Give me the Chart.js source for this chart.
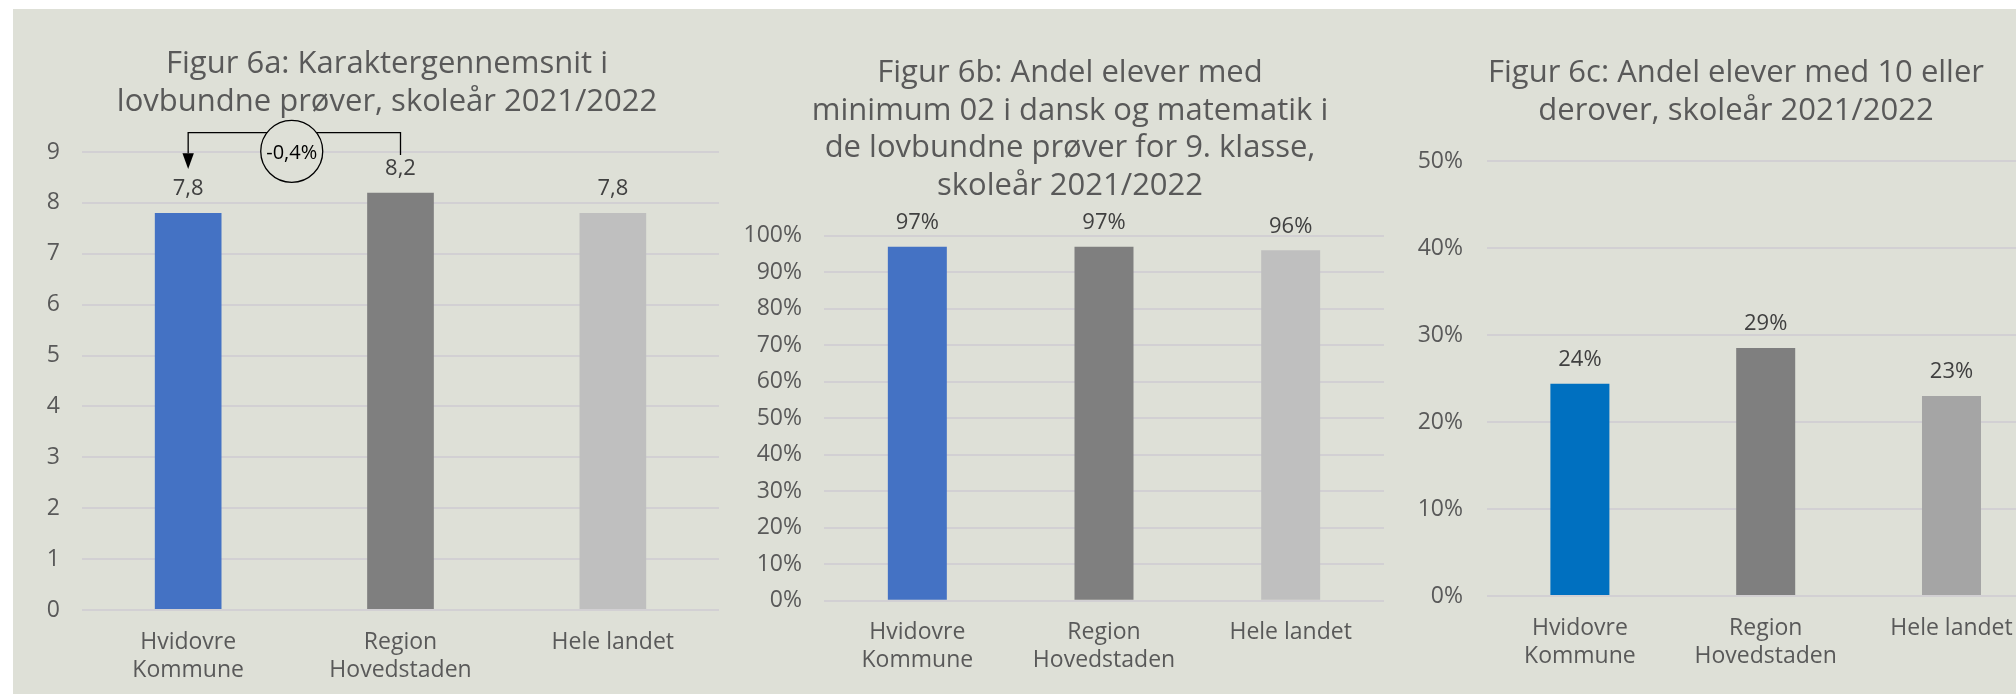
<!DOCTYPE html>
<html><head><meta charset="utf-8">
<script src="https://cdn.jsdelivr.net/npm/chart.js@4.4.1/dist/chart.umd.min.js"></script>
<style>
html,body{margin:0;padding:0;background:#ffffff;width:2016px;height:694px;overflow:hidden;}
#bg{position:absolute;left:13px;top:9px;width:2003px;height:685px;background:#DEE0D7;overflow:hidden;}
canvas{position:absolute;top:0;}
</style></head><body>
<div id="bg">
<canvas id="c1" width="748" height="685" style="left:0px"></canvas>
<canvas id="c2" width="660" height="685" style="left:727px"></canvas>
<canvas id="c3" width="672" height="685" style="left:1387px"></canvas>
</div>
<script>
// ---- data ----
const categories = [['Hvidovre', 'Kommune'], ['Region', 'Hovedstaden'], 'Hele landet'];

const gradeValues = [7.8, 8.2, 7.8];            // Figur 6a
const min02Values = [97.0, 97.0, 96.0];         // Figur 6b (%)
const tenPlusValues = [24.4, 28.5, 23.0];       // Figur 6c (%)

const gradeTicks = [0, 1, 2, 3, 4, 5, 6, 7, 8, 9];
const pct100Ticks = [0, 10, 20, 30, 40, 50, 60, 70, 80, 90, 100];
const pct50Ticks = [0, 10, 20, 30, 40, 50];

const titleA = ['Figur 6a: Karaktergennemsnit i', 'lovbundne prøver, skoleår 2021/2022'];
const titleB = ['Figur 6b: Andel elever med', 'minimum 02 i dansk og matematik i', 'de lovbundne prøver for 9. klasse,', 'skoleår 2021/2022'];
const titleC = ['Figur 6c: Andel elever med 10 eller', 'derover, skoleår 2021/2022'];

const changeText = '-0,4%';

// ---- styling ----
const BG = '#DEE0D7';
const FONT = "'Open Sans', sans-serif";
Chart.defaults.font.family = FONT;
Chart.defaults.color = '#595959';

const valueLabels = {
  id: 'valueLabels',
  afterDatasetsDraw(chart, args, opts) {
    const ctx = chart.ctx;
    const meta = chart.getDatasetMeta(0);
    ctx.save();
    ctx.font = '22px ' + FONT;
    ctx.fillStyle = '#404040';
    ctx.textAlign = 'center';
    ctx.textBaseline = 'middle';
    meta.data.forEach((bar, i) => {
      ctx.fillText(opts.labels[i], bar.x, bar.y - opts.offset);
    });
    ctx.restore();
  }
};

const changeBracket = {
  id: 'changeBracket',
  afterDatasetsDraw(chart, args, opts) {
    if (!opts || !opts.text) return;
    const ctx = chart.ctx;
    const x = chart.scales.x, y = chart.scales.y;
    const x0 = x.getPixelForValue(opts.from);
    const x1 = x.getPixelForValue(opts.to);
    const top = y.getPixelForValue(y.max);
    const lineY = top - 19.3;
    const headY = top + 1.3;
    const tipY = top + 17;
    const rightEnd = top + 3;
    ctx.save();
    ctx.strokeStyle = '#000';
    ctx.fillStyle = '#000';
    ctx.lineWidth = 1.3;
    ctx.beginPath();
    ctx.moveTo(x0, headY);
    ctx.lineTo(x0, lineY);
    ctx.lineTo(x1, lineY);
    ctx.lineTo(x1, rightEnd);
    ctx.stroke();
    ctx.beginPath();
    ctx.moveTo(x0 - 5.7, headY);
    ctx.lineTo(x0 + 5.7, headY);
    ctx.lineTo(x0, tipY);
    ctx.closePath();
    ctx.fill();
    const cx = (x0 + x1) / 2 - 2.6, cy = top - 0.7;
    ctx.beginPath();
    ctx.arc(cx, cy, 31, 0, Math.PI * 2);
    ctx.fillStyle = BG;
    ctx.fill();
    ctx.stroke();
    ctx.fillStyle = '#000';
    ctx.font = '20px ' + FONT;
    ctx.textAlign = 'center';
    ctx.textBaseline = 'middle';
    ctx.fillText(opts.text, cx, cy + 2);
    ctx.restore();
  }
};

function makeChart(id, cfg) {
  return new Chart(document.getElementById(id), {
    type: 'bar',
    data: {
      labels: categories,
      datasets: [{
        data: cfg.values,
        backgroundColor: cfg.colors,
        borderWidth: 0,
        categoryPercentage: 1,
        barPercentage: cfg.barPct,
        yAxisID: 'y'
      }]
    },
    plugins: [valueLabels, changeBracket],
    options: {
      responsive: false,
      animation: false,
      devicePixelRatio: 1,
      layout: { padding: 0 },
      plugins: {
        legend: { display: false },
        tooltip: { enabled: false },
        title: {
          display: true,
          text: cfg.title,
          color: '#595959',
          font: { family: FONT, size: 31, weight: 'normal', lineHeight: 37.7 / 31 },
          padding: { top: cfg.titleTop, bottom: cfg.titleBottom }
        },
        valueLabels: { labels: cfg.values.map(cfg.labelFmt), offset: 24 },
        changeBracket: cfg.bracket || {}
      },
      scales: {
        x: {
          grid: { display: false, drawTicks: false },
          border: { display: false },
          ticks: { color: '#595959', font: { size: 23, lineHeight: 28 / 23 }, padding: 18, maxRotation: 0, autoSkip: false },
          afterFit: s => { s.height = cfg.xHeight; }
        },
        y: {
          position: 'left',
          min: 0,
          max: cfg.max,
          grid: { color: '#D2D0D3', lineWidth: 2, drawTicks: false },
          border: { display: false },
          afterBuildTicks: s => { s.ticks = cfg.ticks.map(v => ({ value: v })); },
          ticks: { color: '#595959', font: { size: 23 }, padding: cfg.tickPad, callback: cfg.tickFmt },
          afterFit: s => { s.width = cfg.yWidth; }
        },
        // empty right-hand spacer so the title centres where the original does
        spacer: {
          type: 'linear',
          position: 'right',
          grid: { display: false, drawTicks: false },
          border: { display: false },
          ticks: { display: false },
          afterFit: s => { s.width = cfg.rightGap; }
        }
      }
    }
  });
}

makeChart('c1', {
  values: gradeValues,
  colors: ['#4472C4', '#7F7F7F', '#BFBFBF'],
  ticks: gradeTicks, max: 9,
  tickFmt: v => String(v),
  labelFmt: v => v.toFixed(1).replace('.', ','),
  title: titleA, titleTop: 36.2, titleBottom: 31.4,
  yWidth: 69, tickPad: 22, rightGap: 42, xHeight: 84, barPct: 0.314,
  bracket: { from: 0, to: 1, text: changeText }
});

makeChart('c2', {
  values: min02Values,
  colors: ['#4472C4', '#7F7F7F', '#BFBFBF'],
  ticks: pct100Ticks, max: 100,
  tickFmt: v => v + '%',
  labelFmt: v => Math.round(v) + '%',
  title: titleB, titleTop: 45.2, titleBottom: 30.7,
  yWidth: 84, tickPad: 22, rightGap: 16, xHeight: 93.3, barPct: 0.316
});

makeChart('c3', {
  values: tenPlusValues,
  colors: ['#0070C0', '#7F7F7F', '#A5A5A5'],
  ticks: pct50Ticks, max: 50,
  tickFmt: v => v + '%',
  labelFmt: v => Math.round(v) + '%',
  title: titleC, titleTop: 45.2, titleBottom: 31.4,
  yWidth: 87, tickPad: 24, rightGap: 27.6, xHeight: 98, barPct: 0.3176
});
</script>
</body></html>
